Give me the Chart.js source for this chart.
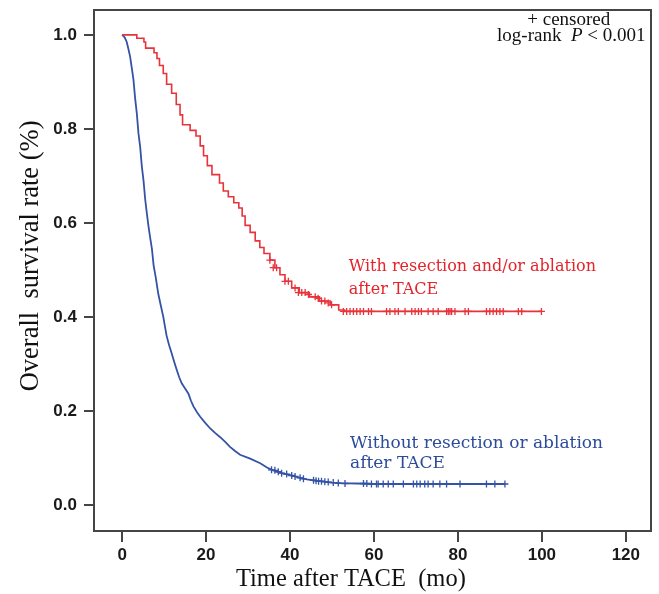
<!DOCTYPE html>
<html>
<head>
<meta charset="utf-8">
<script src="https://cdn.jsdelivr.net/npm/chart.js@4.4.1/dist/chart.umd.min.js"></script>
<style>
  body { margin: 0; background: #fff; }
  canvas { display: block; }
</style>
</head>
<body>
<canvas id="kmChart" width="659" height="594"></canvas>
<script>
// Kaplan-Meier curves (months, survival fraction)
const redTime = [0, 3.5, 5.2, 5.6, 7.6, 8.3, 8.9, 9.8, 10.6, 11.8, 12.9, 13.8, 14.4, 16.2, 17.6, 18.6, 19.4, 20.3, 21.4, 23.2, 24.1, 25.3, 26.6, 27.8, 28.6, 29.3, 30.5, 31.7, 32.8, 33.8, 35.2, 36.4, 37.6, 38.8, 40.4, 42.2, 44.6, 47.0, 49.6, 51.6, 53.0, 99.9];
const redSurv = [1.0, 0.993, 0.985, 0.972, 0.962, 0.950, 0.935, 0.918, 0.895, 0.876, 0.852, 0.830, 0.809, 0.797, 0.785, 0.764, 0.743, 0.722, 0.703, 0.685, 0.668, 0.656, 0.643, 0.632, 0.615, 0.595, 0.580, 0.562, 0.548, 0.535, 0.521, 0.505, 0.490, 0.476, 0.462, 0.452, 0.443, 0.434, 0.426, 0.415, 0.412, 0.412];

const blueTime = [0, 0.6, 1.1, 1.5, 1.9, 2.3, 2.7, 3.1, 3.5, 3.9, 4.3, 4.7, 5.1, 5.5, 5.9, 6.3, 6.7, 7.1, 7.5, 8.0, 8.6, 9.2, 9.8, 10.2, 10.6, 11.2, 11.8, 12.4, 13.0, 13.6, 14.2, 15.0, 15.8, 16.4, 17.0, 17.8, 18.6, 19.8, 21.0, 22.2, 23.3, 24.5, 25.7, 26.9, 28.1, 30.5, 32.9, 34.5, 36.0, 38.0, 40.0, 42.0, 44.0, 46.0, 48.0, 50.0, 52.0, 56.0, 60.0, 91.2];
const blueSurv = [1.0, 0.995, 0.985, 0.970, 0.954, 0.930, 0.905, 0.865, 0.833, 0.790, 0.762, 0.720, 0.690, 0.650, 0.620, 0.592, 0.568, 0.545, 0.510, 0.485, 0.450, 0.425, 0.401, 0.380, 0.360, 0.340, 0.323, 0.305, 0.288, 0.272, 0.259, 0.248, 0.237, 0.222, 0.210, 0.198, 0.188, 0.175, 0.163, 0.153, 0.145, 0.135, 0.124, 0.115, 0.107, 0.099, 0.089, 0.080, 0.074, 0.068, 0.064, 0.059, 0.055, 0.052, 0.050, 0.048, 0.047, 0.046, 0.045, 0.045];

// censored observations
const redCensorTime = [35.2, 36.0, 36.8, 38.8, 39.6, 41.2, 42.0, 42.8, 43.6, 44.4, 46.0, 46.7, 47.5, 48.3, 49.1, 49.9, 52.7, 53.5, 54.3, 55.1, 55.9, 56.7, 57.5, 58.7, 59.4, 63.0, 63.8, 65.0, 65.8, 67.4, 69.0, 69.8, 70.6, 71.3, 72.9, 74.1, 75.3, 77.3, 77.7, 78.1, 78.5, 79.3, 81.7, 82.5, 86.8, 87.6, 88.4, 89.2, 90.0, 90.8, 94.4, 95.2, 99.9];
const redCensorSurv = [0.521, 0.505, 0.505, 0.476, 0.476, 0.462, 0.452, 0.452, 0.452, 0.448, 0.443, 0.440, 0.434, 0.434, 0.430, 0.426, 0.412, 0.412, 0.412, 0.412, 0.412, 0.412, 0.412, 0.412, 0.412, 0.412, 0.412, 0.412, 0.412, 0.412, 0.412, 0.412, 0.412, 0.412, 0.412, 0.412, 0.412, 0.412, 0.412, 0.412, 0.412, 0.412, 0.412, 0.412, 0.412, 0.412, 0.412, 0.412, 0.412, 0.412, 0.412, 0.412, 0.412];
const blueCensorTime = [35.6, 36.4, 37.2, 38.0, 39.2, 40.4, 41.2, 42.4, 43.2, 45.6, 46.2, 46.8, 47.5, 48.3, 49.1, 50.3, 51.5, 53.1, 57.5, 58.3, 59.4, 60.6, 61.0, 62.2, 63.4, 64.6, 67.0, 69.4, 70.2, 71.0, 72.1, 72.9, 74.1, 75.7, 77.3, 80.5, 86.8, 88.8, 91.2];
const blueCensorSurv = [0.075, 0.074, 0.071, 0.068, 0.066, 0.063, 0.061, 0.058, 0.056, 0.053, 0.052, 0.051, 0.051, 0.050, 0.049, 0.048, 0.047, 0.046, 0.046, 0.046, 0.045, 0.045, 0.045, 0.045, 0.045, 0.045, 0.045, 0.045, 0.045, 0.045, 0.045, 0.045, 0.045, 0.045, 0.045, 0.045, 0.045, 0.045, 0.045];

const xTicks = [0, 20, 40, 60, 80, 100, 120];
const yTicks = [0.0, 0.2, 0.4, 0.6, 0.8, 1.0];

const RED = '#e8333b';
const BLUE = '#3453a6';
const AXIS = '#454545';
const SERIF = '"Liberation Serif", "Times New Roman", serif';
const WIDE_SERIF = '"DejaVu Serif", serif';
const TICKFONT = { family: '"Liberation Sans", Arial, sans-serif', size: 17, weight: 'bold' };

function pairs(xs, ys) {
    return xs.map((x, i) => ({ x: x, y: ys[i] }));
}

// frame, axis titles and text annotations
const framePlugin = {
    id: 'frame',
    beforeDatasetsDraw(chart) {
        const { ctx, chartArea: a } = chart;
        ctx.save();
        ctx.strokeStyle = AXIS;
        ctx.lineWidth = 2;
        ctx.strokeRect(a.left, a.top, a.right - a.left, a.bottom - a.top);
        ctx.restore();
    },
    afterDraw(chart) {
        const { ctx } = chart;
        const xs = chart.scales.x, ys = chart.scales.y;
        const px = v => xs.getPixelForValue(v);
        const py = v => ys.getPixelForValue(v);
        ctx.save();
        ctx.textBaseline = 'alphabetic';

        // axis titles
        ctx.fillStyle = '#111';
        ctx.textAlign = 'center';
        ctx.font = '24.5px ' + SERIF;
        ctx.fillText('Time after TACE  (mo)', px(54.5), 586);
        ctx.save();
        ctx.translate(38, py(0.53));
        ctx.rotate(-Math.PI / 2);
        ctx.font = '26.5px ' + SERIF;
        ctx.fillText('Overall  survival rate (%)', 0, 0);
        ctx.restore();

        // top-right note
        ctx.font = '19px ' + SERIF;
        ctx.fillText('+ censored', px(106.4), py(1.021));
        const a = 'log-rank  ', b = 'P', c = ' < 0.001';
        const wa = ctx.measureText(a).width, wc = ctx.measureText(c).width;
        ctx.font = 'italic 19px ' + SERIF;
        const wb = ctx.measureText(b).width;
        const x0 = px(107) - (wa + wb + wc) / 2;
        const yb = py(0.987);
        ctx.textAlign = 'left';
        ctx.font = '19px ' + SERIF;
        ctx.fillText(a, x0, yb);
        ctx.font = 'italic 19px ' + SERIF;
        ctx.fillText(b, x0 + wa, yb);
        ctx.font = '19px ' + SERIF;
        ctx.fillText(c, x0 + wa + wb, yb);

        // curve labels
        ctx.font = '16px ' + WIDE_SERIF;
        ctx.fillStyle = '#e3242b';
        ctx.fillText('With resection and/or ablation', px(54.0), py(0.498));
        ctx.fillText('after TACE', px(54.0), py(0.450));
        ctx.font = '17px ' + WIDE_SERIF;
        ctx.fillStyle = '#2c4b9a';
        ctx.fillText('Without resection or ablation', px(54.3), py(0.121));
        ctx.fillText('after TACE', px(54.3), py(0.079));
        ctx.restore();
    }
};

new Chart(document.getElementById('kmChart'), {
    type: 'scatter',
    data: {
        datasets: [
            {
                label: 'With resection and/or ablation after TACE',
                data: pairs(redTime, redSurv),
                showLine: true,
                stepped: true,
                borderColor: RED,
                borderWidth: 1.6,
                pointRadius: 0
            },
            {
                label: 'Without resection or ablation after TACE',
                data: pairs(blueTime, blueSurv),
                showLine: true,
                borderColor: BLUE,
                borderWidth: 1.8,
                pointRadius: 0
            },
            {
                label: 'censored (with)',
                data: pairs(redCensorTime, redCensorSurv),
                pointStyle: 'cross',
                pointRadius: 3.5,
                borderColor: RED,
                borderWidth: 1.3
            },
            {
                label: 'censored (without)',
                data: pairs(blueCensorTime, blueCensorSurv),
                pointStyle: 'cross',
                pointRadius: 3.5,
                borderColor: BLUE,
                borderWidth: 1.3
            }
        ]
    },
    options: {
        responsive: false,
        animation: false,
        layout: { padding: { top: 10, right: 8, left: 0, bottom: 0 } },
        plugins: {
            legend: { display: false },
            tooltip: { enabled: false }
        },
        scales: {
            x: {
                type: 'linear',
                min: -6.7,
                max: 126,
                afterFit: s => { s.height = 63; s.paddingLeft = 0; s.paddingRight = 0; },
                afterBuildTicks: s => { s.ticks = xTicks.map(v => ({ value: v })); },
                grid: { drawOnChartArea: false, drawTicks: true, tickLength: 11, color: AXIS, lineWidth: 2 },
                border: { display: true, color: AXIS, width: 2 },
                ticks: { font: TICKFONT, color: '#1a1a1a', padding: 3, maxRotation: 0 }
            },
            y: {
                type: 'linear',
                min: -0.055,
                max: 1.053,
                afterFit: s => { s.width = 94; s.paddingTop = 0; s.paddingBottom = 0; },
                afterBuildTicks: s => { s.ticks = yTicks.map(v => ({ value: v })); },
                grid: { drawOnChartArea: false, drawTicks: true, tickLength: 10, color: AXIS, lineWidth: 2 },
                border: { display: true, color: AXIS, width: 2 },
                ticks: { font: TICKFONT, color: '#1a1a1a', padding: 7, callback: v => v.toFixed(1) }
            }
        }
    },
    plugins: [framePlugin]
});
</script>
</body>
</html>
